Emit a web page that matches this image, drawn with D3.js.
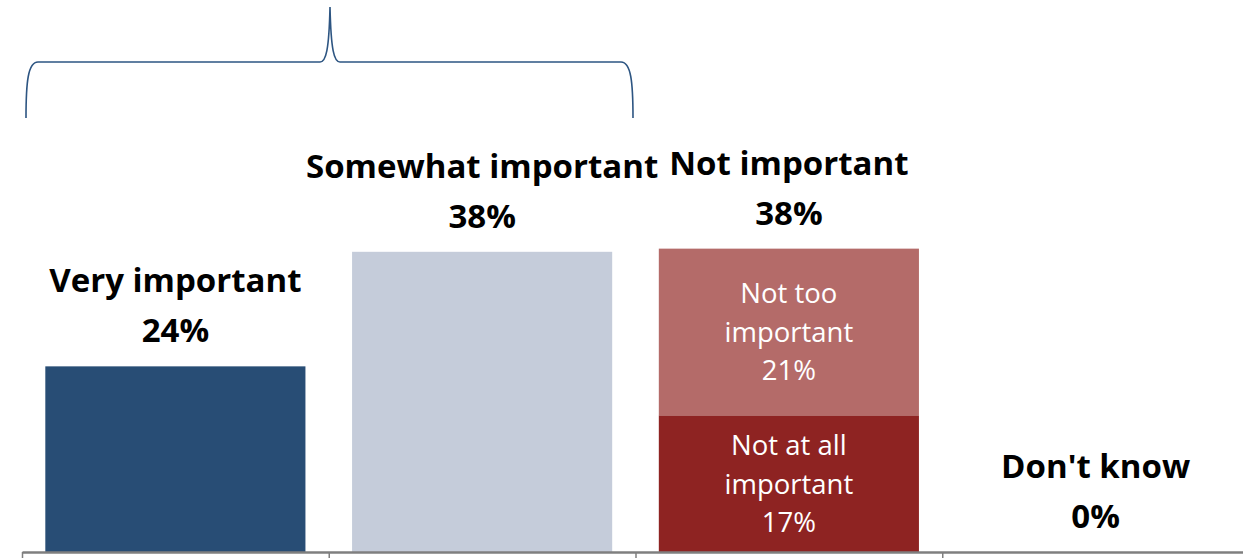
<!DOCTYPE html>
<html>
<head>
<meta charset="utf-8">
<script src="https://cdn.jsdelivr.net/npm/d3@7"></script>
<style>
  html, body { margin: 0; padding: 0; background: #fff; overflow: hidden; }
  svg { display: block; font-family: "Open Sans", Lato, sans-serif; }
</style>
</head>
<body>
<div id="chart"></div>
<script>
// categories along the axis
const categories = ['Very important', 'Somewhat important', 'Not important', "Don't know"];
// stacked segments (bottom to top) for each category, in percent
const baseValues = [23.5, 38.0, 0, 0];
const notAtAllValues = [0, 0, 17.3, 0];
const notTooValues = [0, 0, 21.1, 0];
const colors = ['#284d75', '#c5ccda', '#8e2322', '#b46b69'];

const width = 1243, height = 558;
const baseline = 552;

const svg = d3.select('#chart').append('svg')
  .attr('width', width).attr('height', height);

const x = d3.scaleBand()
  .domain(categories)
  .range([22, 1249])
  .paddingInner(0.152)
  .paddingOuter(0.076);

const y = d3.scaleLinear()
  .domain([0, 100])
  .range([baseline, baseline - 790]);

// axis ticks sit between categories, so use an index scale for them
const xEdges = d3.scaleLinear().domain([0, categories.length]).range([22, 1249]);

/* ---
 * Bars: build stacked rows from the arrays above.
 */
const rows = categories.map((c, i) => ({
  cat: c,
  base: baseValues[i],
  notAtAll: notAtAllValues[i],
  notToo: notTooValues[i]
}));
const layers = d3.stack().keys(['base', 'notAtAll', 'notToo'])(rows);

const barColor = (key, d) => {
  if (key === 'base') return d.data.cat === 'Very important' ? colors[0] : colors[1];
  if (key === 'notAtAll') return colors[2];
  return colors[3];
};

svg.append('g').selectAll('g')
  .data(layers)
  .enter().append('g')
  .each(function(layer) {
    d3.select(this).selectAll('rect')
      .data(layer.filter(d => d[1] - d[0] > 0))
      .enter().append('rect')
      .attr('x', d => x(d.data.cat))
      .attr('width', x.bandwidth())
      .attr('y', d => y(d[1]))
      .attr('height', d => y(d[0]) - y(d[1]))
      .attr('fill', d => barColor(layer.key, d));
  });

/* ---
 * Labels inside the stacked bar (white, regular).
 */
const innerLabels = [
  { cat: 'Not important', lines: ['Not at all', 'important'], lo: 0, hi: notAtAllValues[2] },
  { cat: 'Not important', lines: ['Not too', 'important'], lo: notAtAllValues[2], hi: notAtAllValues[2] + notTooValues[2] }
];
innerLabels.forEach(l => {
  const cx = x(l.cat) + x.bandwidth() / 2;
  const cy = (y(l.lo) + y(l.hi)) / 2;
  const t = svg.append('text')
    .attr('text-anchor', 'middle')
    .attr('fill', '#fff')
    .attr('font-size', 27.5);
  const lines = l.lines.concat([Math.round(l.hi - l.lo) + '%']);
  lines.forEach((s, k) => {
    t.append('tspan').attr('x', cx).attr('y', cy + 10 + (k - 1) * 38.5).text(s);
  });
});

/* ---
 * Labels above each bar (bold black).
 */
const totals = rows.map(r => r.base + r.notAtAll + r.notToo);
categories.forEach((c, i) => {
  const cx = x(c) + x.bandwidth() / 2;
  const top = y(totals[i]);
  const t = svg.append('text')
    .attr('text-anchor', 'middle')
    .attr('fill', '#000')
    .attr('font-weight', 'bold')
    .attr('font-size', 33);
  t.append('tspan').attr('x', cx).attr('y', top - 74).text(c);
  t.append('tspan').attr('x', cx).attr('y', top - 24).text(Math.round(totals[i]) + '%');
});

/* ---
 * Category axis with ticks on the category edges.
 */
const axis = svg.append('g')
  .attr('transform', 'translate(0,' + baseline + ')')
  .call(d3.axisBottom(xEdges)
    .tickValues(d3.range(categories.length + 1))
    .tickFormat('')
    .tickSize(7)
    .tickSizeOuter(0));
axis.select('.domain').attr('stroke', '#7f7f7f').attr('stroke-width', 2.5);
axis.selectAll('.tick line').attr('stroke', '#7f7f7f').attr('stroke-width', 1.5);

/* ---
 * Brace over the first two bars.
 */
const bl = 26, br = 633, bm = 330, by = 62, btop = 7, bbot = 118;
svg.append('path')
  .attr('d', `M${bl},${bbot} C${bl},${by + 20} ${bl + 2},${by} ${bl + 12},${by}
              L${bm - 10},${by} C${bm - 4},${by} ${bm - 1},${by - 12} ${bm},${btop}
              C${bm + 1},${by - 12} ${bm + 4},${by} ${bm + 10},${by}
              L${br - 12},${by} C${br - 2},${by} ${br},${by + 20} ${br},${bbot}`)
  .attr('fill', 'none')
  .attr('stroke', '#2d5582')
  .attr('stroke-width', 1.6);
</script>
</body>
</html>
